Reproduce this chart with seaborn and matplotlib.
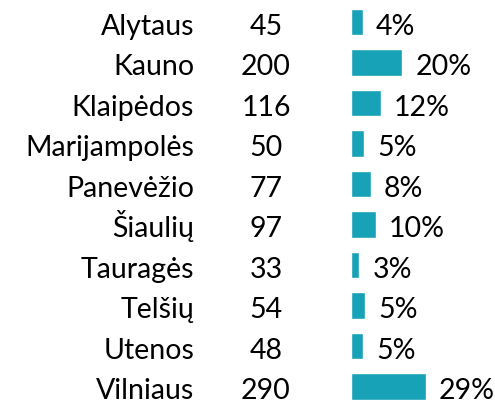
import matplotlib
matplotlib.use("Agg")
import matplotlib.pyplot as plt
import seaborn as sns
import pandas as pd

regions = ["Alytaus", "Kauno", "Klaipėdos", "Marijampolės", "Panevėžio",
           "Šiaulių", "Tauragės", "Telšių", "Utenos", "Vilniaus"]
counts = [45, 200, 116, 50, 77, 97, 33, 54, 48, 290]
pct_labels = ["4%", "20%", "12%", "5%", "8%", "10%", "3%", "5%", "5%", "29%"]

df = pd.DataFrame({"region": regions, "count": counts})

sns.set_theme(style="white")
plt.rcParams["font.family"] = ["Lato", "DejaVu Sans"]

W, H = 495, 405
fig = plt.figure(figsize=(W / 100, H / 100), dpi=100)
ax = fig.add_axes([0, 0, 1, 1])

color = "#17A2B8"
sns.barplot(data=df, y="region", x="count", orient="h", color=color,
            width=0.65, saturation=1, ax=ax, order=regions)

scale = 0.257  # px per unit
x0 = -351.0 / scale
ax.set_xlim(x0, x0 + W / scale)
top = -22 / 40.5
ax.set_ylim(top + H / 40.5, top)
ax.axis("off")

fs = 20.5
tr = ax.get_yaxis_transform()
for i, (r, c, p) in enumerate(zip(regions, counts, pct_labels)):
    yb = i + 0.32
    ax.text(194 / W, yb, r, transform=tr, ha="right", va="baseline", fontsize=fs, color="black")
    ax.text(266 / W, yb, str(c), transform=tr, ha="center", va="baseline", fontsize=fs, color="black")
    ax.annotate(p, xy=(c, yb), xytext=(9.5, 0), textcoords="offset points",
                ha="left", va="baseline", fontsize=fs, color="black")

fig.savefig("out.png", dpi=100)
